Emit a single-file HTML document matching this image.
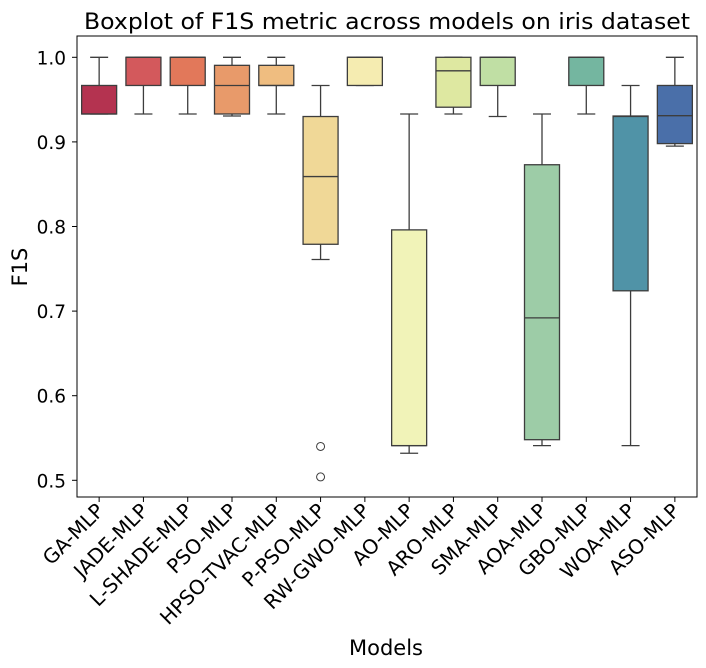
<!DOCTYPE html>
<html><head><meta charset="utf-8"><style>
body{margin:0;background:#fff;}
svg{display:block;font-family:"DejaVu Sans","Liberation Sans",sans-serif;}
</style></head><body>
<svg id="chart" width="706" height="668" xmlns="http://www.w3.org/2000/svg">
<text x="84" y="29" font-size="22" textLength="606" lengthAdjust="spacingAndGlyphs">Boxplot of F1S metric across models on iris dataset</text>
<text transform="translate(27,267) rotate(-90)" font-size="21" text-anchor="middle">F1S</text>
<text x="386" y="655" font-size="21" text-anchor="middle">Models</text>
<g id="plot"></g>
</svg>
<script>
const categories=["GA-MLP","JADE-MLP","L-SHADE-MLP","PSO-MLP","HPSO-TVAC-MLP","P-PSO-MLP","RW-GWO-MLP","AO-MLP","ARO-MLP","SMA-MLP","AOA-MLP","GBO-MLP","WOA-MLP","ASO-MLP"];
const mins=[0.933,0.933,0.933,0.9306,0.933,0.761,0.9667,0.532,0.933,0.930,0.541,0.933,0.541,0.895];
const q1s=[0.933,0.9667,0.9667,0.933,0.9667,0.779,0.9667,0.541,0.941,0.9667,0.548,0.9667,0.724,0.898];
const medians=[0.933,1.0,1.0,0.9667,0.9667,0.859,1.0,0.541,0.984,1.0,0.692,1.0,0.930,0.931];
const q3s=[0.9667,1.0,1.0,0.9905,0.9905,0.930,1.0,0.796,1.0,1.0,0.873,1.0,0.9306,0.9667];
const maxs=[1.0,1.0,1.0,1.0,1.0,0.9667,1.0,0.933,1.0,1.0,0.933,1.0,0.9667,1.0];
const outlierCats=[5,5];
const outlierVals=[0.540,0.504];
const colors=["#b43350","#d3595c","#e2785a","#e89a6a","#efbd80","#f0d897","#f5ecb1","#f1f3b8","#dee8a1","#c0dfa4","#9dcca7","#74b6a0","#5093a7","#4a6fa9"];
const yTicks=[0.5,0.6,0.7,0.8,0.9,1.0];
const yTickLabels=["0.5","0.6","0.7","0.8","0.9","1.0"];

const L=77,R=697,T=36,B=497;
const y=v=>57.3+(1-v)*846;
const bw=(R-L)/categories.length;
const x=i=>L+bw*(i+0.5);
const NS="http://www.w3.org/2000/svg";
const g=document.getElementById('plot');
function mk(tag,attrs,parent){const e=document.createElementNS(NS,tag);for(const k in attrs)e.setAttribute(k,attrs[k]);(parent||g).appendChild(e);return e;}
const frame=mk('rect',{x:L,y:T,width:R-L,height:B-T,fill:'none',stroke:'#000','stroke-width':1});


yTicks.forEach((v,i)=>{
  const t=mk('line',{x1:L-5,x2:L,y1:y(v),y2:y(v),stroke:'#000'});
  
  
  const tx=mk('text',{x:L-11,y:y(v)+7,'font-size':18.5,'text-anchor':'end'});
  tx.textContent=yTickLabels[i];
  
  
});
const line='#3d3d3d',w=35,cap=18;
categories.forEach((c,i)=>{
  const cx=x(i);
  const grp=mk('g',{});
  
  
  mk('line',{x1:cx,x2:cx,y1:y(maxs[i]),y2:y(q3s[i]),stroke:line,'stroke-width':1.3},grp);
  mk('line',{x1:cx,x2:cx,y1:y(q1s[i]),y2:y(mins[i]),stroke:line,'stroke-width':1.3},grp);
  mk('line',{x1:cx-cap/2,x2:cx+cap/2,y1:y(maxs[i]),y2:y(maxs[i]),stroke:line,'stroke-width':1.3},grp);
  mk('line',{x1:cx-cap/2,x2:cx+cap/2,y1:y(mins[i]),y2:y(mins[i]),stroke:line,'stroke-width':1.3},grp);
  mk('rect',{x:cx-w/2,y:y(q3s[i]),width:w,height:Math.max(0.5,y(q1s[i])-y(q3s[i])),fill:colors[i],stroke:line,'stroke-width':1.3},grp);
  mk('line',{x1:cx-w/2,x2:cx+w/2,y1:y(medians[i]),y2:y(medians[i]),stroke:line,'stroke-width':1.3},grp);
  const t=mk('line',{x1:cx,x2:cx,y1:B,y2:B+5,stroke:'#000'});
  
  
  const tx=mk('text',{x:0,y:0,'font-size':20,'text-anchor':'end',transform:`translate(${cx+6},${B+15}) rotate(-45)`});
  tx.textContent=c;
  
  
});
outlierCats.forEach((ci,k)=>{
  const o=mk('circle',{cx:x(ci),cy:y(outlierVals[k]),r:4,fill:'none',stroke:line,'stroke-width':1});
  
  
});
</script>
</body></html>
